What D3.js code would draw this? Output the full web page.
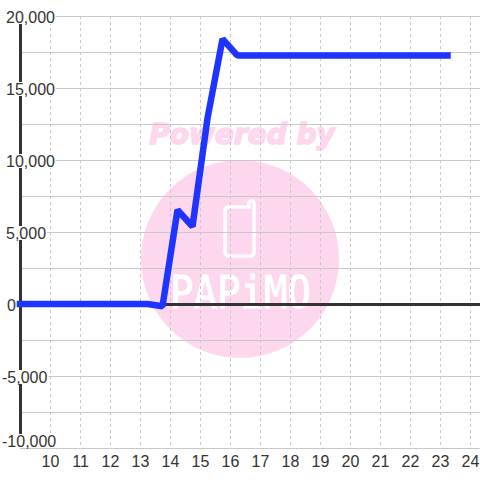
<!DOCTYPE html>
<html>
<head>
<meta charset="utf-8">
<script src="https://cdn.jsdelivr.net/npm/d3@7"></script>
<style>
  html, body { margin: 0; padding: 0; background: #fff; }
  svg { display: block; }
  text { font-family: "Liberation Sans", Arial, sans-serif; }
</style>
</head>
<body>
<script>
// chart values
const hours = [9, 13.25, 13.75, 14.25, 14.75, 15.25, 15.75, 16.25, 23.25];
const values = [0, 0, -150, 6530, 5380, 12900, 18400, 17250, 17250];
const xTicks = [10, 11, 12, 13, 14, 15, 16, 17, 18, 19, 20, 21, 22, 23, 24];
const yGrid = [20000, 17500, 15000, 12500, 10000, 7500, 5000, 2500, 0, -2500, -5000, -7500, -10000];
const yLabels = [20000, 15000, 10000, 5000, 0, -5000, -10000];

const w = 480;
const h = 480;

// d3 axes add their own half pixel, so the ranges stay on whole pixels
const xScale = d3.scaleLinear().domain([9, 24.3333]).range([20, 480]);
const yScale = d3.scaleLinear().domain([20000, -10000]).range([16, 448]);
const yFormat = d => d3.format(",")(d).replace("\u2212", "-");

const svg = d3.select("body").append("svg").attr("width", w).attr("height", h);

// watermark sits under the grid
const mark = svg.append("g");
mark.append("circle").attr("cx", 240).attr("cy", 259).attr("r", 99).attr("fill", "#fcd7ee");
mark.append("text")
  .attr("x", 242).attr("y", 144)
  .attr("text-anchor", "middle")
  .attr("font-size", 28)
  .attr("font-weight", "bold")
  .attr("font-style", "italic")
  .style("font-family", "'DejaVu Sans'")
  .attr("fill", "#fcd7ee")
  .attr("stroke", "#fcd7ee")
  .attr("stroke-width", 1.6)
  .text("Powered by");
mark.append("path")
  .attr("d", "M229 207H249V203Q249 201 251.5 201Q254 201 254 203V252Q254 256 250 256H229Q225 256 225 252V211Q225 207 229 207Z")
  .attr("fill", "none").attr("stroke", "#fff").attr("stroke-width", 3.5);
mark.append("text")
  .attr("transform", "translate(240.5,308) scale(1,1.15)")
  .attr("text-anchor", "middle")
  .attr("font-size", 39)
  .attr("fill", "#fff")
  .attr("stroke", "#fff")
  .attr("stroke-width", 0.8)
  .style("font-family", "'DejaVu Sans Mono'")
  .text("PAPiMO");

// grid
const yGridAxis = d3.axisLeft(yScale).tickValues(yGrid).tickSize(-(w - 20)).tickFormat("");
svg.append("g").attr("transform", "translate(20,0)").call(yGridAxis)
  .call(g => g.select(".domain").remove())
  .selectAll("line").attr("stroke", "#c8c8c8").attr("stroke-width", 1);

const xAxis = d3.axisBottom(xScale).tickValues(xTicks).tickSize(0).tickPadding(7.5).tickFormat(d3.format("d"));
const xG = svg.append("g").attr("transform", "translate(0,448)").call(xAxis);
xG.select(".domain").remove();
xG.selectAll("text").attr("font-size", 16).attr("fill", "#333").style("font-family", "'Liberation Sans'");
xG.selectAll("line")
  .attr("y1", -432).attr("y2", 0)
  .attr("stroke", "#c8c8c8").attr("stroke-dasharray", "3,3");

// zero line and left axis
svg.append("line")
  .attr("x1", xScale(9)).attr("x2", w)
  .attr("y1", yScale(0) + 0.5).attr("y2", yScale(0) + 0.5)
  .attr("stroke", "#333").attr("stroke-width", 3);
svg.append("line")
  .attr("x1", xScale(9) + 0.5).attr("x2", xScale(9) + 0.5)
  .attr("y1", yScale(20000)).attr("y2", yScale(-10000))
  .attr("stroke", "#333").attr("stroke-width", 3);

// y labels have a white box behind them, the bottom one is pushed up into the plot
const labelMid = d => d === -10000 ? yScale(d) - 7 : yScale(d) + 1;
const yLabel = svg.append("g").selectAll("g").data(yLabels).enter().append("g");
const yText = yLabel.append("text")
  .attr("x", d => d < 0 ? 2 : (d === 0 ? 7 : 6))
  .attr("y", d => labelMid(d) + 6)
  .attr("font-size", 16)
  .attr("fill", "#333")
  .text(yFormat);
yText.each(function(d) {
  const b = this.getBBox();
  d3.select(this.parentNode).insert("rect", "text")
    .attr("x", 0).attr("y", labelMid(d) - 7)
    .attr("width", b.x + b.width + 1).attr("height", 14)
    .attr("fill", "#fff");
});

const line = d3.line().x(d => xScale(d[0])).y(d => yScale(d[1]));
svg.append("path")
  .datum(hours.map((d, i) => [d, values[i]]))
  .attr("d", line)
  .attr("fill", "none")
  .attr("stroke", "#1f35ff")
  .attr("stroke-width", 6.5)
  .attr("stroke-linecap", "square")
  .attr("stroke-linejoin", "bevel");
</script>
</body>
</html>
